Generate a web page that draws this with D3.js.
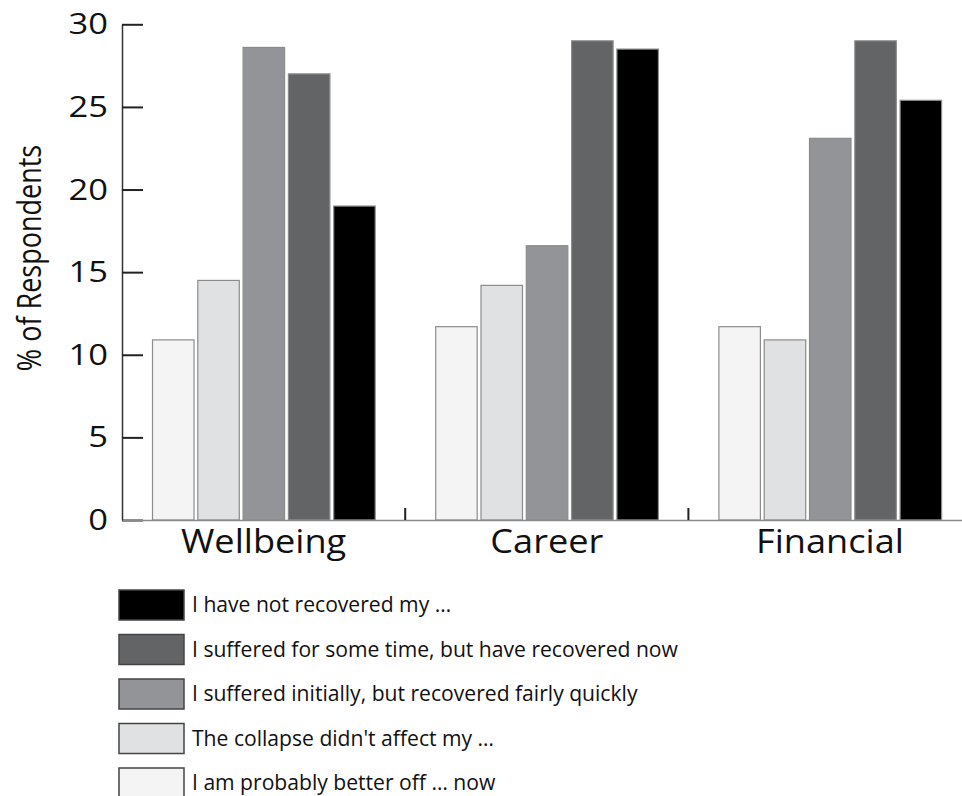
<!DOCTYPE html>
<meta charset="utf-8">
<style>
    body { margin: 0; background: #fff; }
    text { font-family: "Open Sans", sans-serif; fill: #111; }
</style>
<svg width="962" height="796"></svg>
<script src="https://d3js.org/d3.v7.min.js"></script>
<script>

    // data
    var categories = ["Wellbeing", "Career", "Financial"];
    var seriesNames = [
        "I am probably better off \u2026 now",
        "The collapse didn't affect my \u2026",
        "I suffered initially, but recovered fairly quickly",
        "I suffered for some time, but have recovered now",
        "I have not recovered my \u2026"
    ];
    var betterOff    = [10.9, 11.7, 11.7];
    var notAffected  = [14.5, 14.2, 10.9];
    var quickly      = [28.6, 16.6, 23.1];
    var someTime     = [27.0, 29.0, 29.0];
    var notRecovered = [19.0, 28.5, 25.4];
    var yTicks = [0, 5, 10, 15, 20, 25, 30];

    var series = [betterOff, notAffected, quickly, someTime, notRecovered];
    var fills = ["#f4f4f4", "#e0e1e3", "#939497", "#636466", "#000000"];

    var svg = d3.select("svg");

    var x0 = d3.scaleBand().domain(categories).range([122, 971.6]);
    var x1 = d3.scaleBand().domain(d3.range(series.length))
        .range([30.5, 253.2]).paddingInner(0.084);
    var y = d3.scaleLinear().domain([0, 30]).range([520, 24.3]);
    var color = d3.scaleOrdinal().domain(d3.range(series.length)).range(fills);

    // bars
    var group = svg.selectAll(".cat")
        .data(categories)
        .enter().append("g")
        .attr("class", "cat")
        .attr("transform", function (d) { return "translate(" + x0(d) + ",0)"; });

    group.selectAll("rect")
        .data(function (d, i) {
            return series.map(function (s, k) { return {k: k, v: s[i]}; });
        })
        .enter().append("rect")
        .attr("x", function (d) { return x1(d.k); })
        .attr("width", x1.bandwidth())
        .attr("y", function (d) { return y(d.v); })
        .attr("height", function (d) { return y(0) - y(d.v); })
        .attr("fill", function (d) { return color(d.k); })
        .attr("stroke", "#8c8c8c")
        .attr("stroke-width", 1.2);

    // y axis, ticks pointing inward
    var yAxis = svg.append("g")
        .attr("transform", "translate(122,0)")
        .call(d3.axisLeft(y).tickValues(yTicks).tickSizeInner(-21).tickSizeOuter(0).tickPadding(14));
    yAxis.select(".domain").attr("stroke", "#333").attr("stroke-width", 1.5);
    yAxis.selectAll(".tick line").attr("stroke", "#222").attr("stroke-width", 2);
    yAxis.selectAll(".tick text")
        .attr("x", -14 / 1.15)
        .attr("transform", "scale(1.15,1)")
        .style("font-size", "30px")
        .attr("fill", "#111");

    // x axis
    var xAxis = svg.append("g")
        .attr("transform", "translate(0,520)")
        .call(d3.axisBottom(x0).tickSize(0).tickPadding(10));
    xAxis.select(".domain").attr("stroke", "#8a8a8a").attr("stroke-width", 1.6);
    xAxis.selectAll(".tick text")
        .attr("transform", "scale(1.13,1)")
        .style("font-size", "32px")
        .attr("fill", "#111");

    // separators between categories
    svg.append("g").selectAll("line")
        .data(categories.slice(1))
        .enter().append("line")
        .attr("x1", function (d) { return x0(d); })
        .attr("x2", function (d) { return x0(d); })
        .attr("y1", 520)
        .attr("y2", 508)
        .attr("stroke", "#222")
        .attr("stroke-width", 2);

    // y label
    svg.append("text")
        .attr("transform", "translate(41,258) scale(1.2,1) rotate(-90)")
        .attr("text-anchor", "middle")
        .style("font-size", "27px")
        .text("% of Respondents");

    // legend, darkest first
    var legend = svg.append("g").selectAll("g")
        .data(d3.range(series.length).reverse())
        .enter().append("g")
        .attr("transform", function (d, i) { return "translate(119," + (590 + i * 44.5) + ")"; });

    legend.append("rect")
        .attr("width", 65)
        .attr("height", 30)
        .attr("fill", function (d) { return color(d); })
        .attr("stroke", "#444")
        .attr("stroke-width", 1.5);

    legend.append("text")
        .attr("transform", "translate(73,22) scale(0.96,1)")
        .style("font-size", "22px")
        .text(function (d) { return seriesNames[d]; });
</script>
